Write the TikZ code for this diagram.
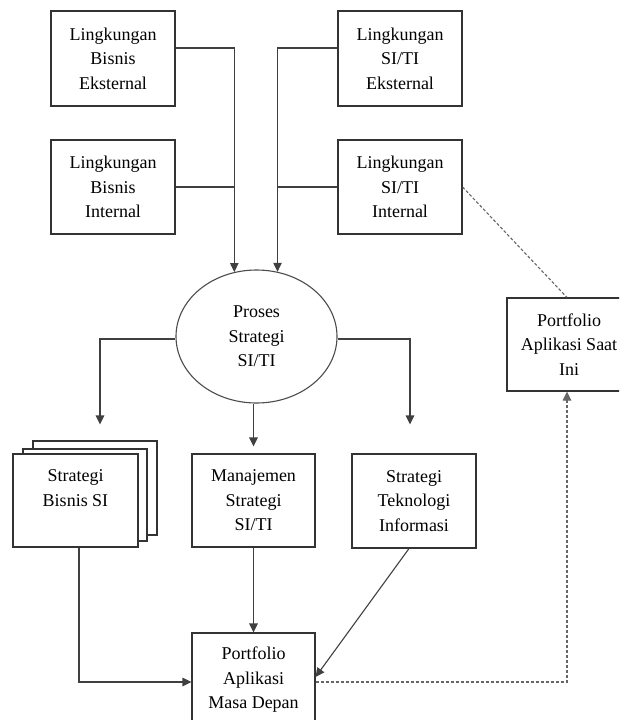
\documentclass[tikz,border=0pt]{standalone}
\usepackage{fontspec}
\setmainfont{Liberation Serif}
\usetikzlibrary{arrows.meta,shapes.geometric}
\tikzset{
  boxnode/.style={draw=black!80, line width=1.1pt, fill=white, rectangle, minimum width=124pt, minimum height=94pt, inner sep=0pt, align=center, font=\fontsize{18}{24.5}\selectfont},
  ellnode/.style={draw=black!70, line width=1.1pt, fill=white, ellipse, minimum width=161pt, minimum height=133pt, inner sep=0pt, align=center, font=\fontsize{18}{24.5}\selectfont},
  conn/.style={draw=black!75, line width=1.1pt},
  arr/.style={conn, -{Triangle[length=9pt,width=8.5pt]}},
  dconn/.style={draw=black!60, line width=1.1pt, dash pattern=on 3pt off 2pt},
  darr/.style={dconn, -{Triangle[length=9pt,width=8.5pt]}}
}
\begin{document}
\begin{tikzpicture}[x=1pt,y=-1pt]
\useasboundingbox (0,0) rectangle (619,720);
\clip (0,0) rectangle (619,720);
\fill[white] (0,0) rectangle (619,720);
% top boxes
\node[boxnode, minimum height=95pt] (LBE) at (113,58.5) {Lingkungan\\Bisnis\\Eksternal};
\node[boxnode] (LBI) at (113,187) {Lingkungan\\Bisnis\\Internal};
\node[boxnode, minimum height=95pt] (LSE) at (400,58.5) {Lingkungan\\SI/TI\\Eksternal};
\node[boxnode] (LSI) at (400,187) {Lingkungan\\SI/TI\\Internal};
% ellipse
\node[ellnode] (E) at (256.5,336.5) {Proses\\Strategi\\SI/TI};
% stacked boxes
\node[boxnode, minimum width=124pt, minimum height=94pt] (SB3) at (95,488) {};
\node[boxnode, minimum width=124pt, minimum height=92pt] (SB2) at (85,495) {};
\node[boxnode, minimum width=125pt, minimum height=93pt] (SB1) at (75.5,500.5) {Strategi\\Bisnis SI\\~};
\node[boxnode, minimum width=123pt, minimum height=93pt] (MS) at (253.5,500.5) {Manajemen\\Strategi\\SI/TI};
\node[boxnode] (STI) at (414,501) {Strategi\\Teknologi\\Informasi};
\node[boxnode, minimum width=123pt] (PMD) at (253.5,680) {Portfolio\\Aplikasi\\Masa Depan};
\node[boxnode, minimum height=93pt] (PSI) at (569,344.5) {Portfolio\\Aplikasi Saat\\Ini};
% connectors into ellipse
\draw[arr] ([yshift=10.5pt]LBE.east) -| (E.109);
\draw[conn] (LBI.east) -- (LBI.east -| E.109);
\draw[arr] ([yshift=10.5pt]LSE.west) -| (E.72);
\draw[conn] (LSI.west) -- (LSI.west -| E.72);
% out of ellipse
\draw[arr] ([yshift=-2.5pt]E.west) -| ([xshift=5pt,yshift=16pt]SB3.north);
\draw[arr] ([yshift=-2.5pt]E.east) -| ([xshift=-4pt,yshift=29pt]STI.north);
\draw[arr] (E.south -| MS.north) -- ([yshift=7pt]MS.north);
% into portfolio masa depan
\draw[arr] ([xshift=3.5pt]SB1.south) |- ([yshift=-2pt]PMD.west);
\draw[arr] (MS.south) -- (PMD.north);
\draw[arr] ([xshift=-5pt]STI.south) -- ([yshift=3pt]PMD.east);
% dashed
\draw[dconn] (LSI.east) -- ([xshift=-2pt]PSI.north);
\draw[darr] ([yshift=-2pt]PMD.east) -| ([xshift=-2pt]PSI.south);
\end{tikzpicture}
\end{document}
